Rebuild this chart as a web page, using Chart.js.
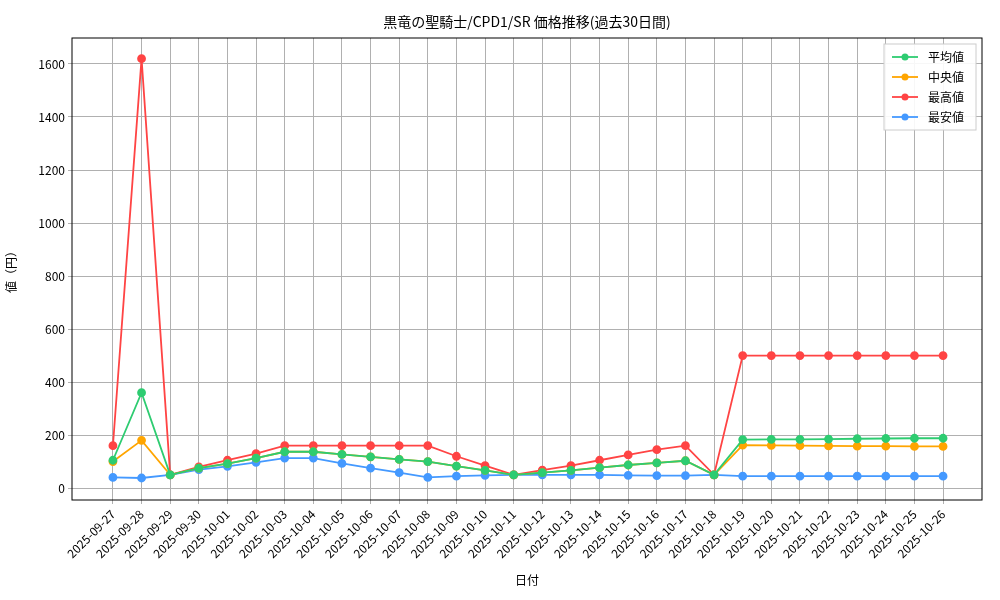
<!DOCTYPE html>
<html>
<head>
<meta charset="utf-8">
<script src="https://cdn.jsdelivr.net/npm/chart.js@4"></script>
<style>
  body { margin: 0; background: #fff; }
  canvas { display: block; }
</style>
</head>
<body>
<canvas id="c" width="1000" height="600"></canvas>
<script>
// ===== Data =====
const dates = ['2025-09-27','2025-09-28','2025-09-29','2025-09-30','2025-10-01','2025-10-02','2025-10-03','2025-10-04','2025-10-05','2025-10-06',
  '2025-10-07','2025-10-08','2025-10-09','2025-10-10','2025-10-11','2025-10-12','2025-10-13','2025-10-14','2025-10-15','2025-10-16',
  '2025-10-17','2025-10-18','2025-10-19','2025-10-20','2025-10-21','2025-10-22','2025-10-23','2025-10-24','2025-10-25','2025-10-26'];
const avgPrice = [105, 360, 50, 75, 92, 113, 137, 137, 127, 118, 108, 100, 83, 67, 50, 58, 67, 77, 87, 95, 103, 50, 183, 184, 184, 185, 186, 187, 188, 188];
const medianPrice = [100, 180, 50, 75, 92, 113, 137, 137, 127, 118, 108, 100, 83, 67, 50, 58, 67, 77, 87, 95, 103, 50, 162, 161, 160, 159, 158, 158, 157, 157];
const maxPrice = [160, 1620, 50, 80, 105, 130, 160, 160, 160, 160, 160, 160, 120, 85, 50, 68, 85, 105, 125, 145, 160, 50, 500, 500, 500, 500, 500, 500, 500, 500];
const minPrice = [40, 38, 50, 70, 82, 97, 113, 113, 93, 75, 58, 40, 45, 48, 50, 50, 50, 50, 48, 47, 47, 50, 45, 45, 45, 45, 45, 45, 45, 45];
const yTicks = [0, 200, 400, 600, 800, 1000, 1200, 1400, 1600];

const FONT = "'Noto Sans CJK JP', 'DejaVu Sans', sans-serif";
Chart.defaults.font.family = FONT;
Chart.defaults.color = '#000';

function series(label, values, color) {
  return {
    label, data: values.map((v, i) => ({ x: i, y: v })),
    borderColor: color, backgroundColor: color,
    borderWidth: 1.8, pointRadius: 3.5, pointHoverRadius: 4, tension: 0
  };
}

// ===== Title + legend box drawn in matplotlib style =====
const overlay = {
  id: 'overlay',
  afterDraw(chart) {
    const ctx = chart.ctx, a = chart.chartArea;
    ctx.save();
    ctx.strokeStyle = '#000'; ctx.lineWidth = 1;
    ctx.strokeRect(a.left, a.top, a.right - a.left, a.bottom - a.top);
    ctx.font = `14px ${FONT}`; ctx.fillStyle = '#000';
    ctx.textAlign = 'center'; ctx.textBaseline = 'middle';
    ctx.fillText('黒竜の聖騎士/CPD1/SR 価格推移(過去30日間)', (a.left + a.right) / 2, 22);
    // legend
    const w = 92, h = 86, x = a.right - w - 6, y = a.top + 6;
    ctx.fillStyle = 'rgba(255,255,255,0.9)'; ctx.strokeStyle = '#ccc';
    ctx.fillRect(x, y, w, h); ctx.strokeRect(x, y, w, h);
    ctx.font = `12px ${FONT}`; ctx.textAlign = 'left';
    chart.data.datasets.forEach((ds, i) => {
      const ly = y + 13 + i * 20;
      ctx.strokeStyle = ds.borderColor; ctx.lineWidth = 1.8;
      ctx.beginPath(); ctx.moveTo(x + 8, ly); ctx.lineTo(x + 34, ly); ctx.stroke();
      ctx.fillStyle = ds.borderColor;
      ctx.beginPath(); ctx.arc(x + 21, ly, 3.5, 0, Math.PI * 2); ctx.fill();
      ctx.fillStyle = '#000'; ctx.fillText(ds.label, x + 44, ly);
    });
    ctx.restore();
  }
};

new Chart(document.getElementById('c'), {
  type: 'line',
  data: {
    datasets: [
      series('平均値', avgPrice, '#2ecc71'),
      series('中央値', medianPrice, '#ffa500'),
      series('最高値', maxPrice, '#ff4444'),
      series('最安値', minPrice, '#4499ff')
    ]
  },
  options: {
    responsive: false, animation: false,
    layout: { padding: { left: 0, top: 38, right: 18, bottom: 12 } },
    plugins: { legend: { display: false }, title: { display: false }, tooltip: { enabled: false } },
    scales: {
      x: {
        type: 'linear', min: -1.43, max: 30.36,
        afterBuildTicks: s => { s.ticks = dates.map((d, i) => ({ value: i })); },
        afterFit: s => { s.height = 88; },
        grid: { color: '#b0b0b0', drawTicks: true, tickLength: 4 },
        border: { display: false },
        ticks: { autoSkip: false, maxRotation: 45, minRotation: 45, font: { size: 12 }, callback: v => dates[v] },
        title: { display: true, text: '日付', font: { size: 12 }, padding: 0 }
      },
      y: {
        min: -45, max: 1698,
        afterBuildTicks: s => { s.ticks = yTicks.map(v => ({ value: v })); },
        afterFit: s => { s.width = 72; },
        grid: { color: '#b0b0b0', tickLength: 4 },
        border: { display: false },
        ticks: { font: { size: 12 }, callback: v => String(v) },
        title: { display: true, text: '値（円）', font: { size: 12 } }
      }
    }
  },
  plugins: [overlay]
});
</script>
</body>
</html>
